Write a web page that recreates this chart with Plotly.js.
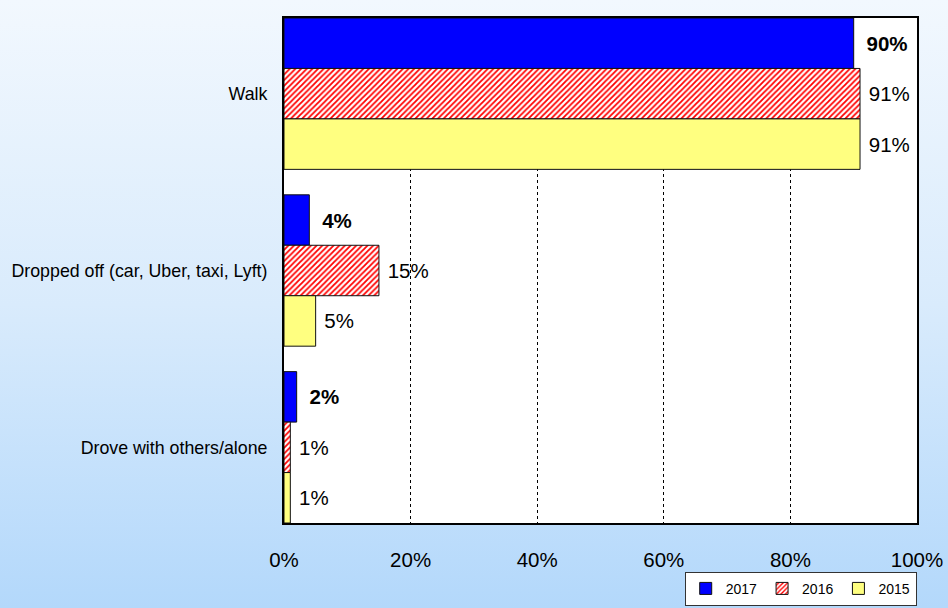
<!DOCTYPE html>
<html>
<head>
<meta charset="utf-8">
<script src="https://cdn.plot.ly/plotly-3.0.1.min.js"></script>
<style>
html,body{margin:0;padding:0;}
#chart{width:948px;height:608px;background:linear-gradient(to bottom,#f2f8fe 0%,#d9ebfc 50%,#b3d8fb 100%);}
</style>
</head>
<body>
<div id="chart"></div>
<script>
const categories = ["Walk", "Dropped off (car, Uber, taxi, Lyft)", "Drove with others/alone"];
const years = ["2017", "2016", "2015"];
const values2017 = [90, 4, 2];
const values2016 = [91, 15, 1];
const values2015 = [91, 5, 1];
const xTickVals = [0, 20, 40, 60, 80, 100];
const xTickText = ["0%", "20%", "40%", "60%", "80%", "100%"];

const font = "Liberation Sans, Arial, sans-serif";
const common = {
  type: "bar", orientation: "h", y: categories,
  textposition: "outside", cliponaxis: false, constraintext: "none",
  textfont: {family: font, size: 20.5, color: "#000"}
};
const traces = [
  Object.assign({}, common, {
    name: years[0], x: values2017,
    text: values2017.map(v => "\u00a0\u2009<b>" + v + "%</b>"),
    marker: {color: "#0000ff", line: {color: "#111", width: 1}}
  }),
  Object.assign({}, common, {
    name: years[1], x: values2016,
    text: values2016.map(v => "\u00a0" + v + "%"),
    marker: {color: "#ffffff", line: {color: "#111", width: 1},
      pattern: {shape: "/", fgcolor: "#ff0000", bgcolor: "#ffffff", size: 4, solidity: 0.45}}
  }),
  Object.assign({}, common, {
    name: years[2], x: values2015,
    text: values2015.map(v => "\u00a0" + v + "%"),
    marker: {color: "#ffff80", line: {color: "#111", width: 1}}
  })
];

const layout = {
  width: 948, height: 608,
  margin: {l: 284, r: 31, t: 18, b: 85, autoexpand: false},
  paper_bgcolor: "rgba(0,0,0,0)",
  plot_bgcolor: "#ffffff",
  barmode: "group", bargap: 0.144, bargroupgap: 0,
  font: {family: font, color: "#000"},
  showlegend: true,
  legend: {orientation: "h", xref: "container", x: 0.967, xanchor: "right", y: -0.164, yanchor: "bottom",
    bgcolor: "#ffffff", bordercolor: "#333", borderwidth: 1,
    font: {family: font, size: 14, color: "#000"},
    itemwidth: 30, tracegroupgap: 0},
  xaxis: {
    range: [0, 100], tickvals: xTickVals, ticktext: xTickText,
    showgrid: true, gridcolor: "#000", gridwidth: 1, griddash: "dot",
    zeroline: false, showline: true, linecolor: "#000", linewidth: 2, mirror: true,
    ticks: "", ticklabelstandoff: 17,
    tickfont: {family: font, size: 20.5, color: "#000"}, fixedrange: true
  },
  yaxis: {
    type: "category", range: [2.428, -0.428],
    showgrid: false, zeroline: false, showline: true, linecolor: "#000", linewidth: 2, mirror: true,
    ticks: "", ticklabelstandoff: 11,
    tickfont: {family: font, size: 17.8, color: "#000"}, fixedrange: true
  }
};

Plotly.newPlot("chart", traces, layout, {displayModeBar: false, staticPlot: true});
</script>
</body>
</html>
